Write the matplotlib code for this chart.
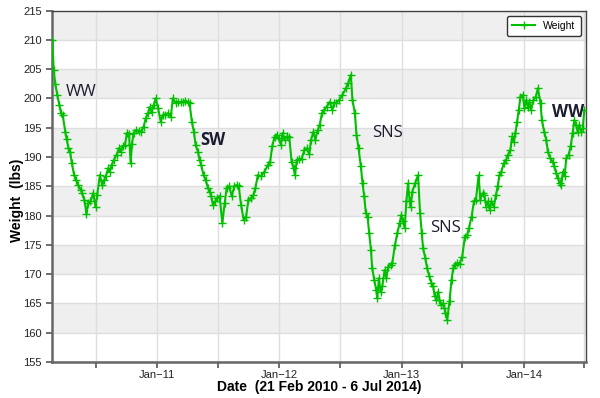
import pandas as pd
import matplotlib
matplotlib.use("Agg")
import matplotlib.pyplot as plt

# data: days since 21 Feb 2010 and weight (lbs)
start_date = "2010-02-21"
end_date = "2014-07-06"
day_offset = [
    1, 5, 10, 16, 22, 27, 32, 40, 44, 49, 54, 59, 66, 72, 78, 86, 90, 97, 103, 108,
    115, 123, 130, 135, 143, 150, 156, 161, 168, 173, 178, 185, 193, 200, 206, 211, 218, 224, 230, 235,
    239, 244, 252, 260, 267, 274, 280, 287, 292, 298, 304, 310, 317, 325, 331, 339, 347, 355, 361, 370,
    376, 384, 391, 398, 406, 411, 418, 424, 429, 436, 441, 446, 453, 459, 466, 471, 476, 481, 488, 494,
    501, 509, 516, 522, 530, 537, 545, 552, 558, 565, 573, 580, 587, 595, 602, 608, 615, 625, 635, 645,
    652, 658, 665, 671, 677, 684, 689, 695, 701, 709, 716, 722, 726, 732, 739, 746, 754, 761, 769, 774,
    781, 787, 794, 800, 807, 813, 821, 830, 838, 843, 850, 858, 868, 878, 885, 893, 898, 905, 910, 916,
    923, 928, 933, 938, 943, 948, 953, 957, 963, 969, 972, 977, 982, 987, 994, 999, 1005, 1012, 1017, 1025,
    1032, 1039, 1044, 1049, 1054, 1059, 1064, 1069, 1072, 1077, 1085, 1094, 1100, 1105, 1109, 1116, 1121, 1128, 1134, 1139,
    1144, 1149, 1154, 1158, 1163, 1168, 1173, 1176, 1181, 1188, 1194, 1199, 1204, 1211, 1218, 1226, 1234, 1241, 1246, 1254,
    1261, 1267, 1275, 1280, 1287, 1292, 1298, 1303, 1308, 1313, 1320, 1327, 1332, 1337, 1343, 1350, 1357, 1363, 1370, 1375,
    1380, 1385, 1390, 1395, 1400, 1407, 1412, 1417, 1422, 1427, 1431, 1439, 1446, 1452, 1460, 1464, 1471, 1477, 1482, 1489,
    1496, 1501, 1507, 1512, 1517, 1522, 1527, 1532, 1537, 1544, 1550, 1556, 1561, 1566, 1571, 1576, 1581, 1586, 1591,
]
weight = [
    210.0, 204.8, 202.4, 200.5, 198.9, 197.5, 197.1, 194.2, 193.0, 191.5, 190.9, 189.0, 186.9, 186.1, 185.2, 184.4, 183.8, 182.6, 180.2, 182.1,
    182.4, 183.8, 181.5, 183.5, 186.9, 185.2, 186.1, 186.7, 188.1, 187.5, 188.6, 189.5, 190.4, 191.5, 190.9, 191.8, 192.1, 194.1, 194.0, 188.9,
    192.3, 194.1, 194.6, 194.5, 194.3, 195.2, 196.6, 197.5, 198.5, 197.7, 198.9, 200.0, 198.3, 196.0, 197.2, 197.2, 197.5, 196.9, 200.0, 199.2,
    199.4, 199.4, 199.4, 199.6, 199.4, 199.2, 196.0, 194.3, 192.1, 190.9, 189.5, 188.6, 186.9, 186.1, 184.7, 184.1, 183.3, 181.8, 182.4, 183.0,
    183.3, 178.7, 182.1, 184.7, 185.0, 183.3, 185.0, 185.2, 185.0, 181.8, 179.2, 179.8, 182.7, 183.0, 183.5, 184.7, 186.9, 186.7, 187.5, 188.6,
    189.2, 191.8, 193.4, 193.8, 193.2, 192.1, 194.1, 192.9, 193.5, 193.4, 189.2, 188.1, 186.9, 189.5, 189.6, 189.7, 191.2, 191.5, 190.5, 192.9,
    194.3, 192.9, 194.6, 195.5, 197.5, 198.0, 198.6, 199.4, 198.0, 199.2, 199.3, 199.7, 200.6, 201.7, 202.6, 204.0, 199.7, 197.5, 193.8, 191.5,
    188.4, 185.5, 183.3, 180.4, 179.8, 177.0, 174.2, 171.0, 169.0, 167.3, 165.9, 169.3, 167.0, 167.9, 170.7, 169.3, 171.3, 171.6, 171.9, 175.0,
    177.0, 178.7, 180.1, 179.0, 177.9, 182.4, 185.5, 182.4, 181.5, 184.1, 185.5, 186.9, 180.4, 177.0, 174.4, 172.7, 171.0, 169.6, 168.5, 167.9,
    166.2, 165.6, 167.0, 165.6, 164.8, 165.0, 164.2, 163.4, 162.1, 165.4, 169.0, 171.0, 171.6, 171.9, 171.8, 173.0, 176.4, 176.7, 177.9, 179.8,
    182.4, 182.7, 186.9, 182.7, 183.8, 183.5, 181.5, 182.4, 181.0, 182.4, 181.5, 183.5, 185.0, 186.9, 187.5, 188.9, 189.5, 190.4, 191.2, 193.5,
    192.6, 194.1, 196.0, 198.0, 200.3, 200.6, 198.3, 199.7, 198.6, 199.4, 198.0, 199.7, 200.3, 201.7, 199.2, 196.3, 194.3, 192.9, 190.9, 189.8,
    189.2, 188.4, 187.2, 186.4, 185.5, 185.2, 187.5, 186.7, 189.8, 190.4, 191.8, 194.1, 196.3, 195.5, 194.3, 195.5, 194.3, 194.9, 198.0,
]

major_ticks = ["2011-01-01", "2012-01-01", "2013-01-01", "2014-01-01"]
tick_labels = ["Jan\u221211", "Jan\u221212", "Jan\u221213", "Jan\u221214"]
minor_ticks = ["2010-07-01", "2011-07-01", "2012-07-01", "2013-07-01", "2014-07-01"]

# phase notes on the curve
notes = ["WW", "SW", "SNS", "SNS", "WW"]
note_dates = ["2010-05-18", "2011-06-16", "2012-11-20", "2013-05-12", "2014-05-14"]
note_weights = [201.1, 192.9, 194.1, 177.9, 197.7]
note_bold = [False, True, False, False, True]

dates = pd.to_datetime(start_date) + pd.to_timedelta(day_offset, unit="D")

plt.rcParams["font.family"] = ["Liberation Sans", "DejaVu Sans"]

fig = plt.figure(figsize=(6.0, 3.98), dpi=100)
ax = fig.add_axes([0.0867, 0.0905, 0.890, 0.883])

y_min, y_max = 155, 215
# alternating grey bands
for lo in range(160, y_max, 10):
    ax.axhspan(lo, lo + 5, color="#efefef", zorder=0, lw=0)

ax.plot(dates, weight, color="#00c000", lw=1.5, marker="+", ms=6, mew=1.0,
        label="Weight", zorder=3)

for txt, d, w, b in zip(notes, note_dates, note_weights, note_bold):
    ax.text(pd.to_datetime(d), w, txt, fontsize=12, color="#1b1b2f",
            fontweight="bold" if b else "normal", ha="center", va="center",
            family=["Open Sans", "DejaVu Sans"], zorder=4)

ax.set_xlim(pd.to_datetime(start_date), pd.to_datetime(end_date))
ax.set_ylim(y_min, y_max)
ax.set_yticks(range(y_min, y_max + 1, 5))
ax.set_xticks(pd.to_datetime(major_ticks))
ax.set_xticklabels(tick_labels)
ax.set_xticks(pd.to_datetime(minor_ticks), minor=True)

ax.grid(True, which="both", axis="x", color="#dedede", lw=1.0, zorder=1)
ax.grid(True, which="major", axis="y", color="#dedede", lw=1.0, zorder=1)
ax.set_axisbelow(True)

ax.tick_params(axis="both", which="both", direction="out", length=4,
               width=1.2, color="#555555", labelsize=8, labelcolor="#222222")
ax.tick_params(axis="x", pad=1.5)
for side in ["left", "bottom"]:
    ax.spines[side].set_color("#666666")
    ax.spines[side].set_linewidth(1.8)
for side in ["top", "right"]:
    ax.spines[side].set_color("#444444")
    ax.spines[side].set_linewidth(1.0)

ax.set_xlabel("Date  (21 Feb 2010 - 6 Jul 2014)", fontsize=10, fontweight="bold")
ax.xaxis.set_label_coords(0.5, -0.05)
ax.set_ylabel("Weight  (lbs)", fontsize=10, fontweight="bold")
ax.yaxis.set_label_coords(-0.053, 0.46)

leg = ax.legend(loc="upper right", fontsize=7.5, frameon=True, fancybox=True,
                handlelength=2.2, borderpad=0.5, borderaxespad=0.5)
leg.get_frame().set_edgecolor("#333333")
leg.get_frame().set_linewidth(1.0)
leg.get_frame().set_alpha(1)

fig.savefig("out.png", dpi=100)
plt.close(fig)
